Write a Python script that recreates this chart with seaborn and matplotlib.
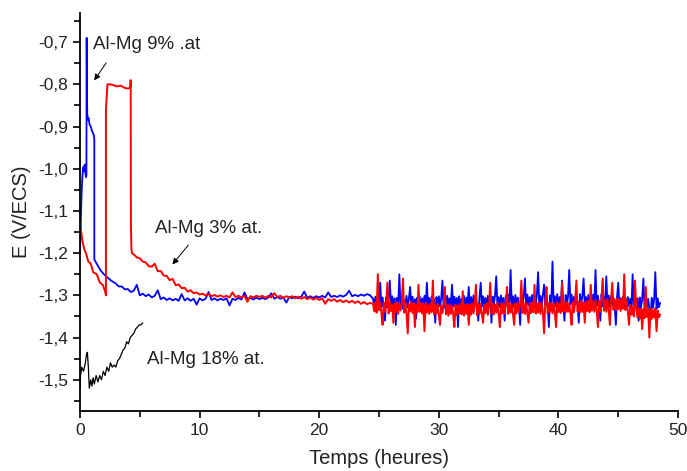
import numpy as np
import pandas as pd
import matplotlib
matplotlib.use("Agg")
import matplotlib.pyplot as plt
from matplotlib.ticker import MultipleLocator, FuncFormatter
import seaborn as sns

# ---------------- data ----------------
# Al-Mg 9% at. (blue) : early transient
blue_t_early = [0.0, 0.05, 0.1, 0.15, 0.2, 0.25, 0.3, 0.35, 0.4, 0.45, 0.5, 0.54, 0.56, 0.58,
                0.61, 0.66, 0.72, 0.8, 0.9, 1.0, 1.08, 1.15, 1.2, 1.2, 1.4, 1.7, 2.0, 2.2, 2.6]
blue_E_early = [-1.20, -1.15, -1.09, -1.05, -1.02, -1.00, -0.995, -1.005, -0.99, -1.01, -1.02, -1.015,
                -0.69, -0.82, -0.87, -0.885, -0.88, -0.895, -0.90, -0.91, -0.915, -0.92, -0.93, -1.215,
                -1.225, -1.24, -1.25, -1.255, -1.265]
# blue : slow decay, 3.0 h -> 24.25 h (one reading every 0.25 h)
blue_E_mid = [
    -1.272, -1.279, -1.279, -1.286, -1.285, -1.292, -1.289, -1.275, -1.300, -1.296,
    -1.302, -1.298, -1.305, -1.301, -1.288, -1.309, -1.305, -1.311, -1.307, -1.312,
    -1.308, -1.313, -1.297, -1.312, -1.307, -1.313, -1.308, -1.322, -1.307, -1.312,
    -1.308, -1.292, -1.311, -1.307, -1.312, -1.308, -1.311, -1.307, -1.324, -1.308,
    -1.311, -1.306, -1.310, -1.293, -1.309, -1.306, -1.310, -1.305, -1.309, -1.306,
    -1.309, -1.305, -1.295, -1.308, -1.304, -1.308, -1.305, -1.317, -1.304, -1.307,
    -1.303, -1.307, -1.303, -1.291, -1.306, -1.302, -1.306, -1.302, -1.305, -1.301,
    -1.305, -1.293, -1.304, -1.301, -1.304, -1.300, -1.303, -1.299, -1.289, -1.302,
    -1.299, -1.302, -1.298, -1.301, -1.297, -1.300]
# blue : noisy part, 24.5 h -> 48.5 h (one reading every 0.1 h)
blue_E_noisy = [
    -1.308, -1.326, -1.303, -1.329, -1.310, -1.322, -1.270, -1.327, -1.305, -1.331,
    -1.360, -1.304, -1.328, -1.309, -1.265, -1.324, -1.302, -1.330, -1.307, -1.370,
    -1.306, -1.325, -1.250, -1.328, -1.304, -1.332, -1.311, -1.323, -1.301, -1.329,
    -1.308, -1.280, -1.326, -1.303, -1.331, -1.309, -1.355, -1.305, -1.327, -1.302,
    -1.330, -1.307, -1.324, -1.301, -1.328, -1.270, -1.325, -1.306, -1.332, -1.303,
    -1.327, -1.309, -1.365, -1.304, -1.329, -1.302, -1.326, -1.308, -1.265, -1.331,
    -1.305, -1.328, -1.301, -1.324, -1.307, -1.330, -1.275, -1.326, -1.303, -1.329,
    -1.306, -1.375, -1.302, -1.327, -1.308, -1.323, -1.301, -1.331, -1.305, -1.325,
    -1.280, -1.328, -1.304, -1.330, -1.300, -1.326, -1.307, -1.329, -1.360, -1.303,
    -1.270, -1.327, -1.302, -1.324, -1.306, -1.331, -1.301, -1.325, -1.305, -1.365,
    -1.303, -1.322, -1.299, -1.255, -1.326, -1.304, -1.328, -1.300, -1.323, -1.306,
    -1.360, -1.301, -1.325, -1.298, -1.327, -1.240, -1.324, -1.302, -1.329, -1.299,
    -1.323, -1.305, -1.326, -1.370, -1.300, -1.322, -1.303, -1.260, -1.327, -1.298,
    -1.324, -1.304, -1.321, -1.299, -1.328, -1.302, -1.325, -1.297, -1.245, -1.323,
    -1.301, -1.327, -1.298, -1.275, -1.322, -1.303, -1.326, -1.375, -1.300, -1.324,
    -1.220, -1.321, -1.302, -1.327, -1.297, -1.323, -1.304, -1.326, -1.265, -1.320,
    -1.360, -1.299, -1.325, -1.302, -1.240, -1.321, -1.298, -1.327, -1.303, -1.322,
    -1.300, -1.326, -1.365, -1.297, -1.324, -1.301, -1.260, -1.322, -1.304, -1.328,
    -1.299, -1.323, -1.302, -1.327, -1.298, -1.321, -1.240, -1.325, -1.301, -1.322,
    -1.360, -1.297, -1.326, -1.303, -1.320, -1.255, -1.324, -1.300, -1.327, -1.302,
    -1.323, -1.305, -1.329, -1.370, -1.304, -1.270, -1.327, -1.307, -1.331, -1.303,
    -1.328, -1.306, -1.332, -1.304, -1.326, -1.308, -1.333, -1.250, -1.329, -1.305,
    -1.331, -1.307, -1.360, -1.305, -1.330, -1.309, -1.260, -1.334, -1.306, -1.329,
    -1.308, -1.333, -1.355, -1.306, -1.330, -1.309, -1.245, -1.332, -1.307, -1.328,
    -1.318]

# Al-Mg 3% at. (red) : early transient
red_t_early = [0.0, 0.1, 0.2, 0.35, 0.5, 0.7, 0.9, 1.1, 1.4, 1.67, 1.9, 2.1, 2.17, 2.17, 2.3,
               2.5, 2.8, 3.1, 3.4, 3.7, 4.0, 4.2, 4.24, 4.26, 4.3, 4.35]
red_E_early = [-1.126, -1.15, -1.17, -1.19, -1.20, -1.22, -1.225, -1.245, -1.25, -1.27, -1.275, -1.29,
               -1.30, -0.86, -0.80, -0.80, -0.802, -0.805, -0.803, -0.808, -0.81, -0.808, -0.79, -1.13,
               -1.19, -1.20]
# red : slow decay, 4.5 h -> 24.25 h (one reading every 0.25 h)
red_E_mid = [
    -1.203, -1.210, -1.212, -1.220, -1.222, -1.231, -1.232, -1.225, -1.243, -1.242,
    -1.253, -1.254, -1.264, -1.261, -1.276, -1.274, -1.283, -1.282, -1.291, -1.288,
    -1.295, -1.293, -1.298, -1.296, -1.300, -1.297, -1.302, -1.299, -1.303, -1.300,
    -1.304, -1.301, -1.305, -1.293, -1.304, -1.301, -1.305, -1.301, -1.315, -1.302,
    -1.305, -1.301, -1.304, -1.301, -1.306, -1.301, -1.305, -1.295, -1.304, -1.301,
    -1.306, -1.302, -1.305, -1.302, -1.307, -1.303, -1.308, -1.304, -1.309, -1.305,
    -1.310, -1.306, -1.311, -1.307, -1.320, -1.309, -1.313, -1.309, -1.315, -1.311,
    -1.316, -1.312, -1.317, -1.313, -1.318, -1.314, -1.320, -1.316, -1.321, -1.318]
# red : noisy part, 24.5 h -> 48.5 h (one reading every 0.1 h)
red_E_noisy = [
    -1.320, -1.338, -1.316, -1.341, -1.250, -1.335, -1.318, -1.342, -1.370, -1.317,
    -1.339, -1.321, -1.270, -1.343, -1.315, -1.337, -1.322, -1.365, -1.319, -1.340,
    -1.316, -1.344, -1.320, -1.336, -1.318, -1.260, -1.341, -1.317, -1.345, -1.390,
    -1.321, -1.338, -1.315, -1.342, -1.319, -1.375, -1.322, -1.340, -1.275, -1.339,
    -1.318, -1.343, -1.320, -1.385, -1.317, -1.341, -1.323, -1.344, -1.319, -1.340,
    -1.265, -1.346, -1.322, -1.343, -1.320, -1.347, -1.370, -1.324, -1.342, -1.321,
    -1.280, -1.345, -1.323, -1.348, -1.321, -1.344, -1.325, -1.346, -1.375, -1.322,
    -1.347, -1.324, -1.343, -1.320, -1.345, -1.290, -1.348, -1.323, -1.344, -1.321,
    -1.370, -1.322, -1.346, -1.319, -1.343, -1.324, -1.275, -1.347, -1.321, -1.344,
    -1.320, -1.345, -1.365, -1.323, -1.342, -1.318, -1.346, -1.322, -1.270, -1.343,
    -1.319, -1.345, -1.321, -1.341, -1.317, -1.344, -1.375, -1.320, -1.343, -1.318,
    -1.342, -1.320, -1.280, -1.344, -1.318, -1.341, -1.321, -1.345, -1.370, -1.319,
    -1.343, -1.317, -1.340, -1.320, -1.265, -1.342, -1.318, -1.344, -1.319, -1.341,
    -1.365, -1.318, -1.342, -1.316, -1.340, -1.275, -1.343, -1.319, -1.341, -1.317,
    -1.344, -1.318, -1.340, -1.390, -1.316, -1.280, -1.342, -1.319, -1.339, -1.317,
    -1.343, -1.318, -1.341, -1.375, -1.316, -1.340, -1.319, -1.342, -1.270, -1.338,
    -1.317, -1.341, -1.315, -1.339, -1.318, -1.342, -1.370, -1.316, -1.340, -1.314,
    -1.265, -1.338, -1.316, -1.341, -1.313, -1.339, -1.317, -1.365, -1.315, -1.337,
    -1.312, -1.340, -1.275, -1.336, -1.314, -1.339, -1.311, -1.337, -1.375, -1.313,
    -1.338, -1.310, -1.260, -1.336, -1.312, -1.339, -1.309, -1.335, -1.370, -1.311,
    -1.270, -1.334, -1.309, -1.336, -1.308, -1.333, -1.310, -1.337, -1.307, -1.332,
    -1.250, -1.335, -1.310, -1.338, -1.370, -1.322, -1.346, -1.328, -1.350, -1.265,
    -1.331, -1.352, -1.330, -1.355, -1.333, -1.380, -1.332, -1.354, -1.280, -1.351,
    -1.334, -1.400, -1.331, -1.356, -1.335, -1.353, -1.330, -1.385, -1.336, -1.352,
    -1.345]

# Al-Mg 18% at. (black)
black_t = [0.0, 0.05, 0.15, 0.3, 0.45, 0.55, 0.62, 0.7, 0.78, 0.9, 1.0, 1.1, 1.2, 1.35, 1.5,
           1.65, 1.8, 1.95, 2.1, 2.25, 2.4, 2.55, 2.7, 2.85, 3.0, 3.15, 3.3, 3.45, 3.6, 3.75,
           3.9, 4.05, 4.2, 4.35, 4.5, 4.65, 4.8, 4.95, 5.1, 5.25]
black_E = [-1.52, -1.49, -1.47, -1.48, -1.46, -1.44, -1.435, -1.47, -1.52, -1.50, -1.515, -1.495,
           -1.51, -1.49, -1.505, -1.49, -1.50, -1.48, -1.49, -1.47, -1.48, -1.46, -1.47, -1.465,
           -1.47, -1.455, -1.45, -1.44, -1.43, -1.425, -1.41, -1.415, -1.40, -1.395, -1.39, -1.38,
           -1.375, -1.37, -1.37, -1.365]

labels = ["Al-Mg 9% .at", "Al-Mg 3% at.", "Al-Mg 18% at."]
x_label = "Temps (heures)"
y_label = "E (V/ECS)"

# sampling times of the regularly logged parts
blue_t_mid = np.linspace(3.0, 24.25, len(blue_E_mid))
red_t_mid = np.linspace(4.5, 24.25, len(red_E_mid))
blue_t_noisy = np.linspace(24.5, 48.5, len(blue_E_noisy))
red_t_noisy = np.linspace(24.5, 48.5, len(red_E_noisy))

# ---------------- tables ----------------
# smooth part (early + slow decay) and noisy part, joined by the last smooth reading
df_blue_a = pd.DataFrame({"t": list(blue_t_early) + list(blue_t_mid),
                          "E": list(blue_E_early) + list(blue_E_mid)})
df_blue_b = pd.DataFrame({"t": [blue_t_mid[-1]] + list(blue_t_noisy),
                          "E": [blue_E_mid[-1]] + list(blue_E_noisy)})
df_red_a = pd.DataFrame({"t": list(red_t_early) + list(red_t_mid),
                         "E": list(red_E_early) + list(red_E_mid)})
df_red_b = pd.DataFrame({"t": [red_t_mid[-1]] + list(red_t_noisy),
                         "E": [red_E_mid[-1]] + list(red_E_noisy)})
df_black = pd.DataFrame({"t": black_t, "E": black_E})

# ---------------- figure ----------------
sns.set_style("ticks")
plt.rcParams["font.family"] = ["Liberation Sans", "DejaVu Sans"]

fig = plt.figure(figsize=(6.87, 4.71), dpi=100)
ax = fig.add_axes([0.1164, 0.1274, 0.8706, 0.845])

BLUE, RED = "#0000ff", "#ff0000"
sns.lineplot(data=df_black, x="t", y="E", color="black", lw=0.9,
             estimator=None, sort=False, ax=ax)
sns.lineplot(data=df_blue_a, x="t", y="E", color=BLUE, lw=1.3,
             estimator=None, sort=False, ax=ax)
sns.lineplot(data=df_blue_b, x="t", y="E", color=BLUE, lw=1.3,
             estimator=None, sort=False, ax=ax)
sns.lineplot(data=df_red_a, x="t", y="E", color=RED, lw=1.4,
             estimator=None, sort=False, ax=ax)
sns.lineplot(data=df_red_b, x="t", y="E", color=RED, lw=1.4,
             estimator=None, sort=False, ax=ax)

ax.set_xlim(0, 50)
ax.set_ylim(-1.574, -0.631)
ax.xaxis.set_major_locator(MultipleLocator(10))
ax.xaxis.set_minor_locator(MultipleLocator(5))
ax.yaxis.set_major_locator(MultipleLocator(0.1))
ax.yaxis.set_minor_locator(MultipleLocator(0.05))
ax.yaxis.set_major_formatter(FuncFormatter(lambda v, p: f"{v:.1f}".replace(".", ",")))
ax.tick_params(axis="both", which="major", length=5, width=1.2, labelsize=12.5,
               direction="out", color="black", labelcolor="#222222")
ax.tick_params(axis="both", which="minor", length=4, width=1.2, direction="out", color="black")
for side in ("top", "right"):
    ax.spines[side].set_visible(False)
for side in ("left", "bottom"):
    ax.spines[side].set_linewidth(1.3)
    ax.spines[side].set_color("black")

ax.set_xlabel(x_label, fontsize=14.5, color="#222222", labelpad=8)
ax.set_ylabel(y_label, fontsize=14.5, color="#222222", labelpad=5)

ax.text(1.09, -0.705, labels[0], fontsize=13.5, va="center", ha="left", color="#222222")
ax.annotate("", xy=(1.06, -0.796), xytext=(2.32, -0.744),
            arrowprops=dict(arrowstyle="-|>", color="black", lw=0.7, mutation_scale=9))
ax.text(6.27, -1.141, labels[1], fontsize=13.5, va="center", ha="left", color="#222222")
ax.annotate("", xy=(7.58, -1.232), xytext=(9.2, -1.176),
            arrowprops=dict(arrowstyle="-|>", color="black", lw=0.7, mutation_scale=9))
ax.text(5.6, -1.452, labels[2], fontsize=13.5, va="center", ha="left", color="#222222")

fig.savefig("out.png", dpi=100, facecolor="white")
